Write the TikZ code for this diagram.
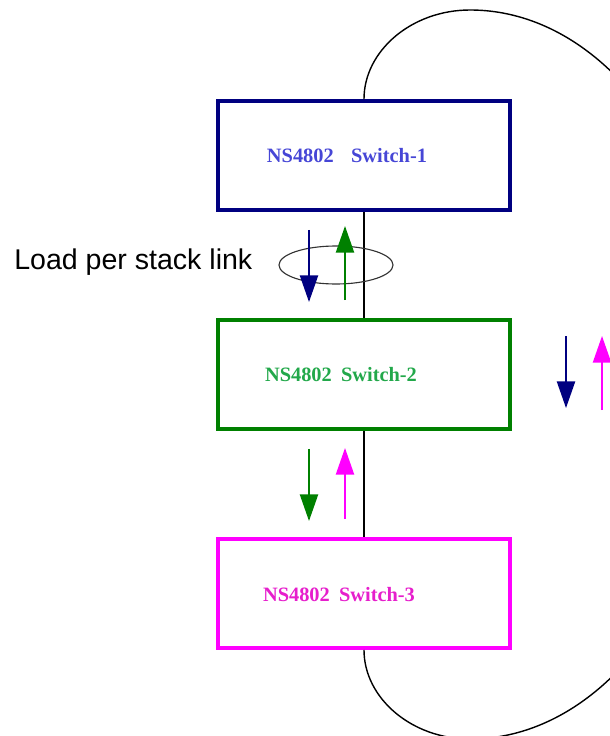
\documentclass[tikz,border=0pt]{standalone}
\usepackage{fontspec}
\setmainfont{Liberation Serif}
\setsansfont{Liberation Sans}
\usetikzlibrary{positioning,arrows.meta,calc}
\definecolor{swnavy}{HTML}{000080}
\definecolor{swgreen}{HTML}{008000}
\definecolor{swmag}{HTML}{FF00FF}
\definecolor{txtblue}{HTML}{4646D6}
\definecolor{txtgreen}{HTML}{22A84A}
\definecolor{txtmag}{HTML}{E61ECC}
\tikzset{
  swbox/.style={draw,line width=2.8pt,minimum width=7.3cm,minimum height=2.725cm,
    inner sep=0pt},
  swtext/.style={font=\fontsize{14.5}{17}\selectfont\bfseries,inner sep=0pt},
  link/.style={line width=1pt,black},
  loadarr/.style={-{Triangle[length=19pt,width=13pt]},line width=1.1pt},
  loadlbl/.style={font=\sffamily\fontsize{20.3}{24}\selectfont,anchor=west,inner sep=0pt},
}
\begin{document}
\begin{tikzpicture}[x=0.025cm,y=-0.025cm]
  \useasboundingbox (0,0) rectangle (610,736);
  \clip (0,0) rectangle (610,736);
  \node[swbox,draw=swnavy] (sw1) at (364,155.5) {};
  \node[swbox,draw=swgreen] (sw2) at (364,374.5) {};
  \node[swbox,draw=swmag] (sw3) at (364,593.5) {};
  \node[swtext,text=txtblue] (sw1lbl) at ($(sw1)+(-17,0)$) {NS4802\hspace{0.85em}Switch-1};
  \node[swtext,text=txtgreen] (sw2lbl) at ($(sw2)+(-23,0)$) {NS4802\hspace{0.45em}Switch-2};
  \node[swtext,text=txtmag] (sw3lbl) at ($(sw3)+(-25,1)$) {NS4802\hspace{0.45em}Switch-3};
  % stack links
  \draw[link] (sw1.south) -- (sw2.north);
  \draw[link] (sw2.south) -- (sw3.north);
  \draw[link] (sw1.north) .. controls (364,51) and (411.5,10) .. (470,10)
    .. controls (610,10) and (724,173) .. (724,374.5)
    .. controls (724,576) and (610,739) .. (470,739)
    .. controls (411.5,739) and (364,698) .. (sw3.south);
  % load per link
  \draw[line width=0.8pt,black!80] ($(sw1.south)!0.5!(sw2.north)+(-28,0)$) ellipse (57 and 19);
  \node[loadlbl] (lbl) at (14,262) {Load per stack link};
  \draw[loadarr,swnavy] ($(sw1.south)+(-55,18)$) -- ++(0,72);
  \draw[loadarr,swgreen] ($(sw2.north)+(-19,-18)$) -- ++(0,-74);
  \draw[loadarr,swgreen] ($(sw2.south)+(-55,18)$) -- ++(0,72);
  \draw[loadarr,swmag] ($(sw3.north)+(-19,-18)$) -- ++(0,-71);
  \draw[loadarr,swnavy] ($(sw2.north east)+(54,18)$) -- ++(0,72);
  \draw[loadarr,swmag] ($(sw2.north east)+(90,92)$) -- ++(0,-74);
\end{tikzpicture}
\end{document}
